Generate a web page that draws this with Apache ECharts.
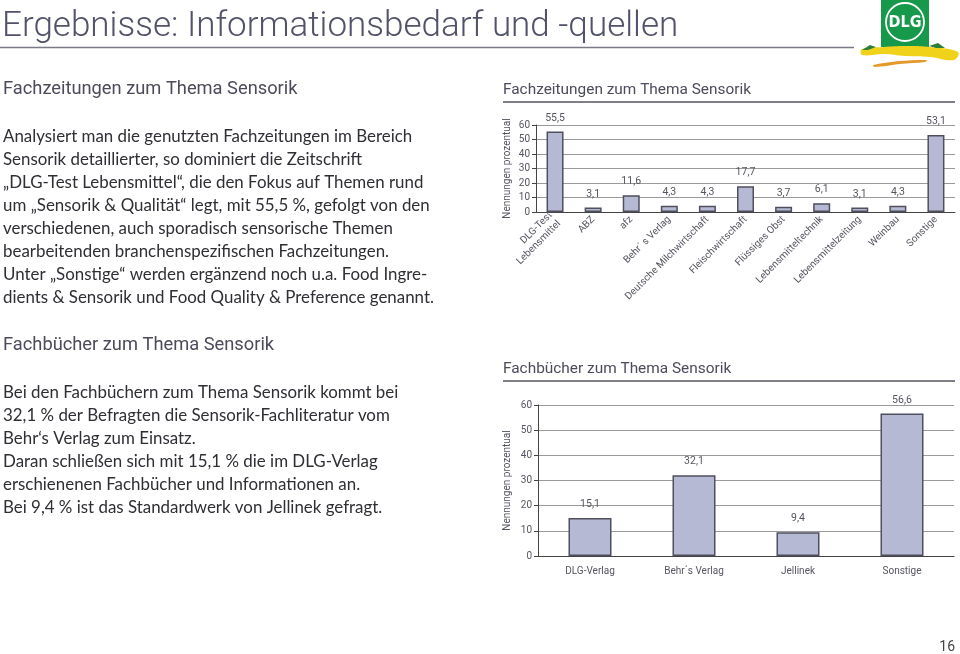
<!DOCTYPE html>
<html>
<head><meta charset="utf-8"></head>
<script type="text/javascript" src="https://cdn.jsdelivr.net/npm/echarts@6/dist/echarts.min.js"></script>
<body style="margin:0;background-color:white;">
    <div id="main" style="width:960px;height:654px;"></div>
</body>
<script>
// Fachzeitungen
var paperCats = ['DLG-Test\nLebensmittel', 'ABZ', 'afz', 'Behr´ s Verlag', 'Deutsche Milchwirtschaft', 'Fleischwirtschaft',
    'Flüssiges Obst', 'Lebensmitteltechnik', 'Lebensmittelzeitung', 'Weinbau', 'Sonstige']
var paperVals = [55.5, 3.1, 11.6, 4.3, 4.3, 17.7, 3.7, 6.1, 3.1, 4.3, 53.1]
// Fachbuecher
var bookCats = ['DLG-Verlag', 'Behr´s Verlag', 'Jellinek', 'Sonstige']
var bookVals = [15.1, 32.1, 9.4, 56.6]
var yMin = 0, yMax = 60, yStep = 10
var yName = 'Nennungen prozentual'

var text1 = 'Analysiert man die genutzten Fachzeitungen im Bereich\n' +
    'Sensorik detaillierter, so dominiert die Zeitschrift\n' +
    '„DLG-Test Lebensmittel“, die den Fokus auf Themen rund\n' +
    'um „Sensorik & Qualität“ legt, mit 55,5 %, gefolgt von den\n' +
    'verschiedenen, auch sporadisch sensorische Themen\n' +
    'bearbeitenden branchenspezifischen Fachzeitungen.\n' +
    'Unter „Sonstige“ werden ergänzend noch u.a. Food Ingre-\n' +
    'dients & Sensorik und Food Quality & Preference genannt.'
var text2 = 'Bei den Fachbüchern zum Thema Sensorik kommt bei\n' +
    '32,1 % der Befragten die Sensorik-Fachliteratur vom\n' +
    'Behr‘s Verlag zum Einsatz.\n' +
    'Daran schließen sich mit 15,1 % die im DLG-Verlag\n' +
    'erschienenen Fachbücher und Informationen an.\n' +
    'Bei 9,4 % ist das Standardwerk von Jellinek gefragt.'

var axisGrey = '#555560'
var headCol = '#4b4b5c'

function fmt(p) { return p.value.toFixed(1).replace('.', ',') }

function yAxisCfg(idx, gap) {
    return {
        type: 'value', gridIndex: idx, min: yMin, max: yMax, interval: yStep,
        name: yName, nameLocation: 'middle', nameGap: gap,
        nameTextStyle: {fontFamily: 'Roboto', fontSize: 10, color: axisGrey},
        axisLine: {show: true, lineStyle: {color: '#444', width: 1}},
        axisTick: {show: true, length: 4, lineStyle: {color: '#444'}},
        axisLabel: {fontFamily: 'Roboto', fontSize: 10, color: axisGrey, margin: 6},
        splitLine: {show: true, lineStyle: {color: '#9a9a9a', width: 1}}
    }
}

function barSeries(idx, vals, w) {
    return {
        type: 'bar', xAxisIndex: idx, yAxisIndex: idx, data: vals, barWidth: w,
        itemStyle: {color: '#b6b9d3', borderColor: '#4f4f5e', borderWidth: 1.5},
        label: {show: true, position: 'top', distance: 8, formatter: fmt,
            fontFamily: 'Roboto', fontSize: 10.5, color: axisGrey}
    }
}

function txt(x, y, s, font, fill, extra) {
    var st = {text: s, font: font, fill: fill, verticalAlign: 'middle'}
    for (var k in extra) st[k] = extra[k]
    return {type: 'text', x: x, y: y, style: st, silent: true}
}

function hline(x1, x2, y, col, w) {
    return {type: 'line', shape: {x1: x1, y1: y, x2: x2, y2: y}, style: {stroke: col, lineWidth: w}, silent: true}
}

var myChart = echarts.init(document.getElementById('main'))

var option = {
    animation: false,
    grid: [
        {left: 536, right: 5, top: 125, bottom: 442},
        {left: 538, right: 6, top: 405, bottom: 98}
    ],
    xAxis: [{
        type: 'category', gridIndex: 0, data: paperCats,
        axisLine: {lineStyle: {color: '#444'}},
        axisTick: {length: 4, lineStyle: {color: '#444'}},
        axisLabel: {interval: 0, rotate: 45, fontFamily: 'Roboto', fontSize: 10, color: axisGrey, margin: 6, lineHeight: 12}
    }, {
        type: 'category', gridIndex: 1, data: bookCats,
        axisLine: {lineStyle: {color: '#444'}},
        axisTick: {length: 4, lineStyle: {color: '#444'}},
        axisLabel: {fontFamily: 'Roboto', fontSize: 10, color: axisGrey, margin: 10}
    }],
    yAxis: [yAxisCfg(0, 24), yAxisCfg(1, 26)],
    series: [barSeries(0, paperVals, 17), barSeries(1, bookVals, 43)],
    graphic: [
        // Kopfzeile
        txt(2, 27, 'Ergebnisse: Informationsbedarf und -quellen', '300 35px Roboto', '#52526a'),
        hline(0, 854, 47.5, '#7a7a86', 1.5),
        // Logo
        {type: 'rect', shape: {x: 881, y: 0, width: 48, height: 47}, style: {fill: '#16994a'}, silent: true},
        {type: 'circle', shape: {cx: 905, cy: 22, r: 19}, style: {fill: 'none', stroke: '#ffffff', lineWidth: 1.8}, silent: true},
        txt(905, 23, 'DLG', 'bold 16px "DejaVu Sans Condensed"', '#ffffff', {align: 'center'}),
        {type: 'polygon', shape: {points: [[862, 49], [884, 47], [905, 46], [930, 47], [958, 52], [954, 60], [930, 57], [905, 56], [884, 54], [862, 55]], smooth: 0.4}, style: {fill: '#f1d21a'}, silent: true},
        {type: 'polygon', shape: {points: [[873, 65], [900, 61], [927, 60], [925, 62], [900, 64], [875, 67]], smooth: 0.3}, style: {fill: '#e39a2a'}, silent: true},
        {type: 'polygon', shape: {points: [[862, 50], [870, 45], [876, 47], [868, 50]]}, style: {fill: '#2e7d3a'}, silent: true},
        {type: 'polygon', shape: {points: [[929, 46], [938, 43], [945, 48], [936, 48]]}, style: {fill: '#2e7d3a'}, silent: true},
        // linke Spalte
        txt(3, 89, 'Fachzeitungen zum Thema Sensorik', '18.3px Roboto', headCol),
        txt(3, 125.5, text1, '16.9px Lato', '#2e2e34', {verticalAlign: 'top', lineHeight: 23}),
        txt(3, 345, 'Fachbücher zum Thema Sensorik', '18.3px Roboto', headCol),
        txt(3, 381.5, text2, '16.9px Lato', '#2e2e34', {verticalAlign: 'top', lineHeight: 23}),
        // rechte Spalte Titel
        txt(503, 90, 'Fachzeitungen zum Thema Sensorik', '15.4px Roboto', headCol),
        hline(503, 955, 102, '#55555f', 1.5),
        txt(503, 369, 'Fachbücher zum Thema Sensorik', '15.4px Roboto', headCol),
        hline(503, 955, 381, '#55555f', 1.5),
        // Seitenzahl
        txt(955, 647, '16', '14px Roboto', '#444', {align: 'right'})
    ]
}

option && myChart.setOption(option)
</script>
</html>
